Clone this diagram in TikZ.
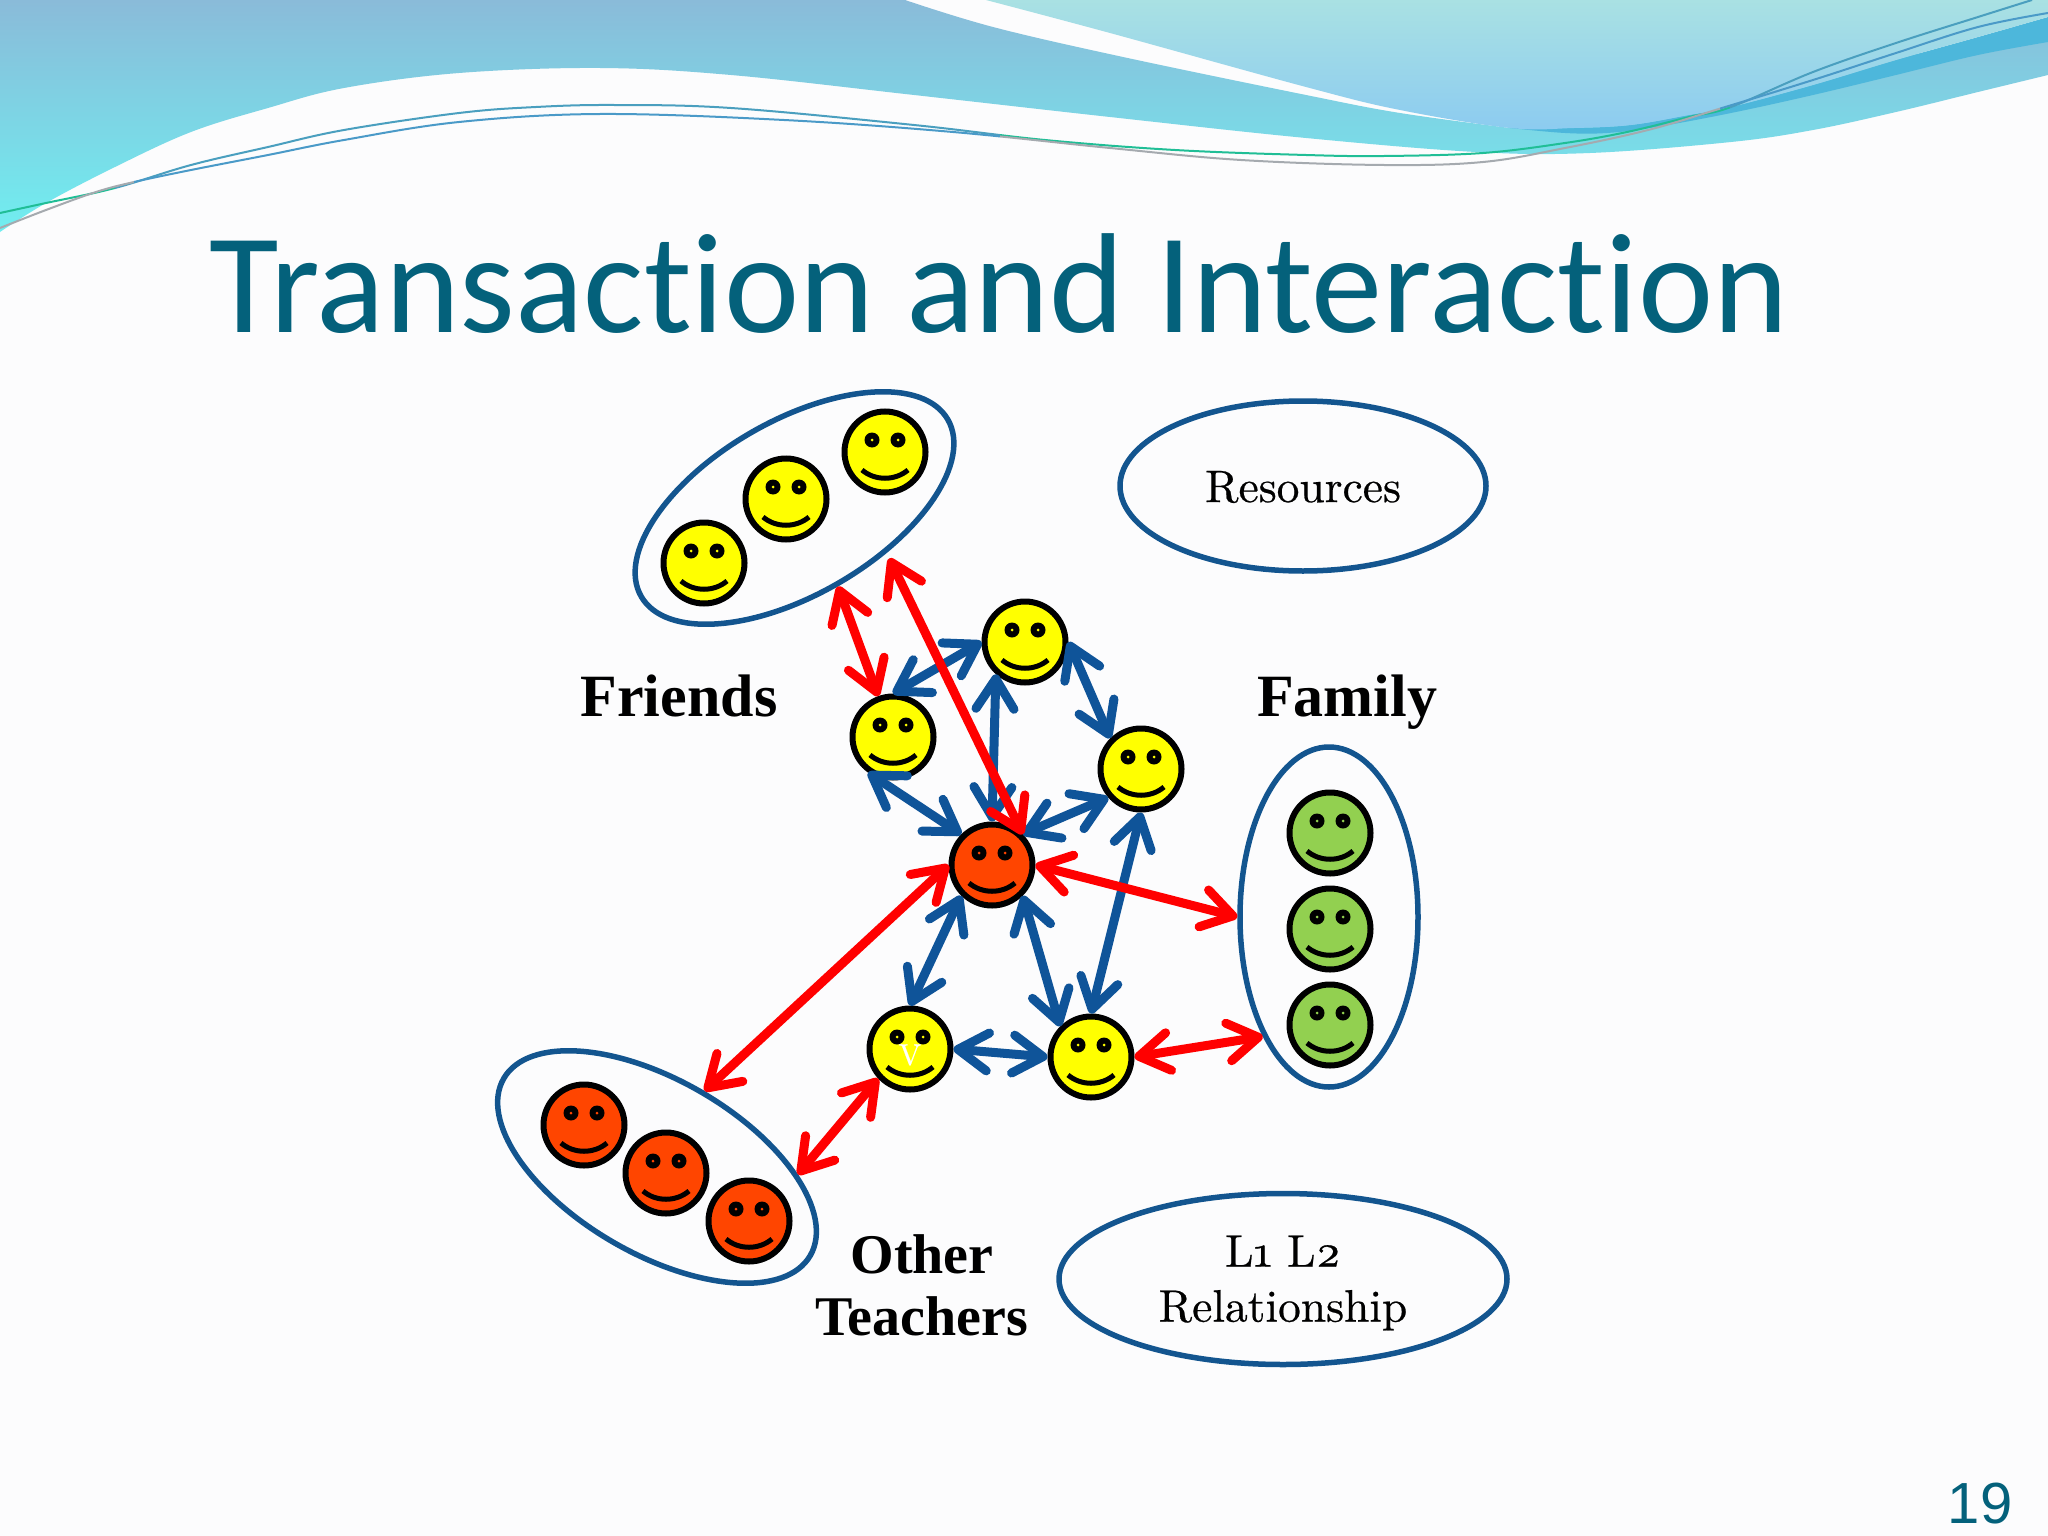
\documentclass[tikz,border=0pt]{standalone}
\usepackage{fontspec}
\setmainfont{lmroman10-regular.otf}[Numbers=OldStyle,FakeBold=0.5]
\newfontfamily\headfont{Liberation Serif}
\newfontfamily\titlefont{Carlito}[Ligatures=NoCommon]
\newfontfamily\numfont{Liberation Sans}
\usetikzlibrary{arrows.meta,shapes.geometric}
\definecolor{slideteal}{HTML}{04617B}
\definecolor{ringblue}{HTML}{13558F}
\definecolor{linkblue}{HTML}{0F5499}
\definecolor{yellowface}{HTML}{FFFF00}
\definecolor{orangeface}{HTML}{FF4500}
\definecolor{greenface}{HTML}{92D050}
\definecolor{paper}{HTML}{FCFCFD}
\definecolor{waveupper}{HTML}{8ABBD9}
\definecolor{wavelower}{HTML}{70EEF0}
\definecolor{waveband}{HTML}{4DB7DB}
\definecolor{lightupper}{HTML}{A9E1E3}
\definecolor{lightlower}{HTML}{8CCBF0}
\definecolor{strandblue}{HTML}{4A9FBF}
\definecolor{stranddeep}{HTML}{4A9AC8}
\definecolor{strandgreen}{HTML}{20BE96}
\definecolor{strandgray}{HTML}{A5AAAF}
\newcommand{\strandup}{plot[smooth, tension=0.6] coordinates {(0,213) (46,203) (115,188) (191,165) (268,147) (344,130) (459,113) (536,107) (614,105) (731,108) (914,125) (1045,140) (1175,150) (1306,155) (1384,156) (1483,153) (1565,143) (1627,132) (1689,117) (1731,107) (1813,72) (1896,43) (1978,17) (2032,0)}}
\newcommand{\stranddown}{plot[smooth, tension=0.6] coordinates {(0,228) (46,210) (96,192) (134,182) (191,170) (268,155) (344,140) (459,122) (600,114) (784,120) (953,132) (1110,148) (1241,160) (1384,165) (1483,162) (1565,148) (1648,130) (1722,108) (1813,80) (1896,53) (1978,27) (2048,13)}}
\tikzset{
    face/.style={circle, draw=black, fill=#1, line width=6pt, minimum size=81pt, inner sep=0pt,
        path picture={
            \begin{scope}[shift={(path picture bounding box.center)}]
                \foreach \e in {-13,13} {
                    \fill[black] (\e,-12) circle (7.5pt);
                    \fill[#1] (\e,-12) circle (1.5pt);
                }
                \draw[black, line width=5pt] (-23,18) .. controls (-10,29) and (10,29) .. (23,18);
            \end{scope}
        }},
    ring/.style={ellipse, draw=ringblue, line width=5.5pt, inner sep=0pt},
    bluelink/.style={draw=linkblue, line width=9pt, line cap=round, {Straight Barb[length=30pt,width=38pt,round]}-{Straight Barb[length=30pt,width=38pt,round]}},
    redlink/.style={draw=red, line width=9pt, line cap=round, {Straight Barb[length=30pt,width=38pt,round]}-{Straight Barb[length=30pt,width=38pt,round]}},
    heading/.style={font=\headfont\bfseries\fontsize{60}{62}\selectfont, align=center},
    plain/.style={font=\fontsize{45.5}{55}\selectfont, align=center},
    strand/.style={line width=2pt, color=#1}
}
\begin{document}
\begin{tikzpicture}[x=1pt, y=-1pt]
    \useasboundingbox (0,0) rectangle (2048,1536);
    \fill[paper] (0,0) rectangle (2048,1536);

    \begin{scope}
        \clip (0,0) rectangle (2048,1536);
        \path[top color=waveupper, bottom color=wavelower]
            (0,0) -- (905,0) -- plot[smooth, tension=0.6] coordinates {(905,0) (993,27) (1123,57) (1306,95) (1400,113) (1510,128)} -- (2048,30)
            -- (2048,75) -- plot[smooth, tension=0.6] coordinates {(2048,75) (1978,92) (1896,112) (1813,130) (1731,142) (1590,153) (1476,152) (1306,138) (1110,117) (914,95) (731,75) (600,68) (459,73) (344,88) (268,108) (191,132) (115,167) (46,203) (0,232)} -- cycle;
        \fill[waveband]
            plot[smooth, tension=0.6] coordinates {(1510,128) (1574,128) (1631,125) (1689,115) (1731,107) (1813,85) (1896,60) (1978,37) (2048,17)}
            -- plot[smooth, tension=0.6] coordinates {(2048,42) (1978,55) (1896,75) (1813,95) (1731,113) (1656,127) (1607,133) (1565,133) (1510,128)} -- cycle;
        \path[top color=lightupper, bottom color=lightlower]
            (986,0) -- plot[smooth, tension=0.6] coordinates {(986,0) (1110,33) (1306,87) (1400,110) (1510,128) (1574,128) (1631,125) (1689,115) (1731,107) (1813,85) (1896,60) (1978,37) (2048,17)} -- (2048,0) -- cycle;

        \foreach \c/\xa/\xb in {strandgreen/0/115, strandblue/115/1000, strandgreen/1000/1730, strandblue/1730/2048} {
            \begin{scope}
                \clip (\xa,0) rectangle (\xb,240);
                \draw[strand=\c] \strandup;
            \end{scope}
        }
        \foreach \c/\xa/\xb in {strandgray/0/134, stranddeep/134/1000, strandgray/1000/1720, stranddeep/1720/2048} {
            \begin{scope}
                \clip (\xa,0) rectangle (\xb,240);
                \draw[strand=\c] \stranddown;
            \end{scope}
        }
    \end{scope}

    \node[font=\titlefont\fontsize{142.4}{142.4}\selectfont, text=slideteal] (title) at (999,284) {Transaction and Interaction};
    \node[font=\numfont\fontsize{58}{58}\selectfont, text=slideteal] (pagenum) at (1980,1504) {19};

    % groups
    \node[ring, rotate=30, minimum width=354pt, minimum height=174pt] (friends) at (794.5,508) {};
    \node[ring, rotate=-30, minimum width=354pt, minimum height=174pt] (teachers) at (657,1167) {};
    \node[ring, rotate=90, minimum width=340pt, minimum height=178pt] (family) at (1329,917) {};
    \node[ring, minimum width=366pt, minimum height=170pt] (resources) at (1303,486) {};
    \node[ring, minimum width=448pt, minimum height=171pt] (relation) at (1283,1279) {};
    \node[plain] (resourcestext) at (1303,487) {Resources};
    \node[plain] (relationtext) at (1283,1283) {L1 L2\\Relationship};

    \foreach \n/\x/\y in {fa/704/563, fb/786/499, fc/885/452} {
        \node[face=yellowface] (\n) at (\x,\y) {};
    }
    \foreach \n/\x/\y in {ta/584/1125, tb/666/1173, tc/749/1221} {
        \node[face=orangeface] (\n) at (\x,\y) {};
    }
    \foreach \n/\x/\y in {ga/1330/833, gb/1330/929, gc/1330/1025} {
        \node[face=greenface] (\n) at (\x,\y) {};
    }
    \node[face=yellowface] (topf) at (1025,642) {};
    \node[face=yellowface] (leftf) at (893,737) {};
    \node[face=yellowface] (rightf) at (1141,769) {};
    \node[face=orangeface] (self) at (992,865) {};
    \node[face=yellowface] (vf) at (910,1049) {};
    \node[face=yellowface] (botf) at (1091,1057) {};
    \node[text=white, font=\fontsize{30}{30}\selectfont] (vmark) at (910,1055) {V};

    \node[heading, anchor=base] (friendstext) at (679,716) {Friends};
    \node[heading, anchor=base] (familytext) at (1347,716) {Family};
    \node[heading, font=\headfont\bfseries\fontsize{56}{62}\selectfont] (otherstext) at (922,1285) {Other\\Teachers};

    % links
    \draw[bluelink] (topf.180) -- (leftf.90);
    \draw[bluelink] (topf.-132) -- (self.90);
    \draw[bluelink] (topf.0) -- (rightf.135);
    \draw[bluelink] (leftf.-125) -- (self.135);
    \draw[bluelink] (rightf.221) -- (self.45);
    \draw[bluelink] (self.225) -- (vf.90);
    \draw[bluelink] (self.-45) -- (botf.135);
    \draw[bluelink] (rightf.-90) -- (botf.90);
    \draw[bluelink] (vf.0) -- (botf.180);

    \draw[redlink] (friends.-91) -- (leftf.110);
    \draw[redlink, shorten <=6pt] (friends.-56) -- (self.45);
    \draw[redlink] (self.0) -- (family.90);
    \draw[redlink] (self.180) -- (teachers.88);
    \draw[redlink] (botf.0) -- (family.151);
    \draw[redlink] (vf.223) -- (teachers.27);
\end{tikzpicture}
\end{document}
